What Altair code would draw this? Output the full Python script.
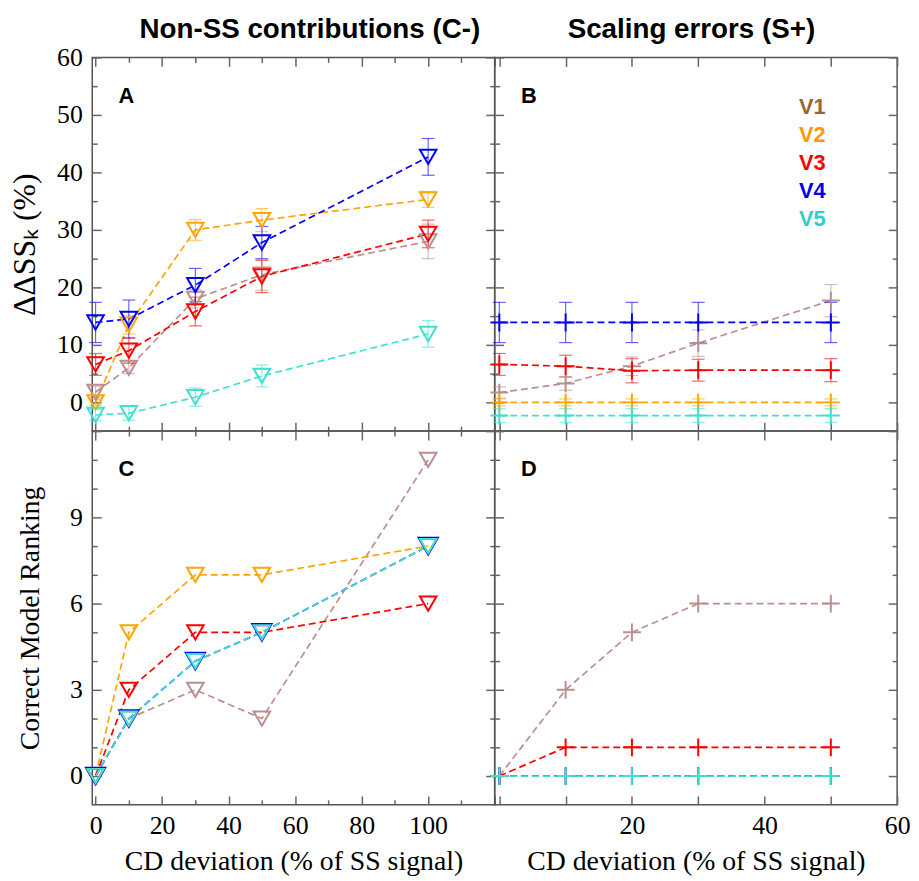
import altair as alt
import pandas as pd

SERIES = ["V1", "V2", "V3", "V4", "V5"]
LINE_COLORS = ["#bc8f8f", "#ffa500", "#ff0000", "#0000ff", "#40e0d0"]
LABEL_COLORS = ["#996633", "#ff9900", "#ff0000", "#0000ee", "#33cccc"]

# x positions (CD deviation, %)
X_LEFT = [0, 10, 30, 50, 100]
X_RIGHT = [0, 10, 20, 30, 50]

# Panel A: ΔΔSS_k (%) under non-SS contributions
A_V1 = [1.8, 6.0, 18.0, 22.2, 28.0]
A_V2 = [0.0, 13.5, 30.0, 31.7, 35.3]
A_V3 = [6.6, 9.0, 15.8, 21.9, 29.3]
A_V4 = [13.9, 14.5, 20.4, 27.8, 42.7]
A_V5 = [-2.2, -1.9, 0.9, 4.6, 11.9]
A_V1_ERR = [1.0, 1.0, 1.6, 2.7, 3.0]
A_V2_ERR = [0.5, 1.6, 1.8, 2.0, 1.4]
A_V3_ERR = [1.9, 2.2, 2.5, 2.8, 2.4]
A_V4_ERR = [3.5, 3.3, 2.9, 2.8, 3.2]
A_V5_ERR = [1.0, 1.2, 1.6, 1.9, 2.3]

# Panel B: ΔΔSS_k (%) under scaling errors
B_V1 = [1.7, 3.3, 6.3, 10.3, 17.7]
B_V2 = [0.0, 0.0, 0.0, 0.0, 0.0]
B_V3 = [6.6, 6.3, 5.5, 5.6, 5.6]
B_V4 = [13.9, 13.9, 13.9, 13.9, 13.9]
B_V5 = [-2.3, -2.3, -2.3, -2.3, -2.3]
B_V1_ERR = [1.0, 1.2, 1.6, 2.3, 2.8]
B_V2_ERR = [0.6, 0.6, 0.6, 0.6, 0.6]
B_V3_ERR = [1.9, 1.9, 2.1, 1.9, 2.0]
B_V4_ERR = [3.5, 3.5, 3.5, 3.5, 3.5]
B_V5_ERR = [1.2, 1.2, 1.2, 1.2, 1.2]

# Panel C: correct model ranking, non-SS contributions
C_V1 = [0, 2, 3, 2, 11]
C_V2 = [0, 5, 7, 7, 8]
C_V3 = [0, 3, 5, 5, 6]
C_V4 = [0, 2, 4, 5, 8]
C_V5 = [0, 2, 4, 5, 8]

# Panel D: correct model ranking, scaling errors
D_V1 = [0, 3, 5, 6, 6]
D_V2 = [0, 0, 0, 0, 0]
D_V3 = [0, 1, 1, 1, 1]
D_V4 = [0, 0, 0, 0, 0]
D_V5 = [0, 0, 0, 0, 0]

# axis ticks (major / minor) and labelled values
XL_MAJOR = [0, 20, 40, 60, 80, 100, 120]
XL_MINOR = [10, 30, 50, 70, 90, 110]
XL_LABELS = [0, 20, 40, 60, 80, 100]
XR_MAJOR = [0, 10, 20, 30, 40, 50, 60]
XR_MINOR = []
XR_LABELS = [20, 40, 60]
YT_MAJOR = [0, 10, 20, 30, 40, 50, 60]
YT_MINOR = [5, 15, 25, 35, 45, 55]
YT_LABELS = [0, 10, 20, 30, 40, 50, 60]
YB_MAJOR = [0, 3, 6, 9, 12]
YB_MINOR = [1, 2, 4, 5, 7, 8, 10, 11]
YB_LABELS = [0, 3, 6, 9]

SERIF = "Liberation Serif"
SANS = "Liberation Sans"
TICK_COLOR = "#666666"
MAJOR_LEN = 9
MINOR_LEN = 5
W, H = 406, 377


def frame(xs, ys_list, errs_list=None):
    rows = []
    for i, s in enumerate(SERIES):
        ys = ys_list[i]
        for j, x in enumerate(xs):
            row = {"series": s, "x": x, "y": ys[j]}
            if errs_list is not None:
                e = errs_list[i][j]
                row["lo"] = ys[j] - e
                row["hi"] = ys[j] + e
            rows.append(row)
    return pd.DataFrame(rows)


dfA = frame(X_LEFT, [A_V1, A_V2, A_V3, A_V4, A_V5],
            [A_V1_ERR, A_V2_ERR, A_V3_ERR, A_V4_ERR, A_V5_ERR])
dfB = frame(X_RIGHT, [B_V1, B_V2, B_V3, B_V4, B_V5],
            [B_V1_ERR, B_V2_ERR, B_V3_ERR, B_V4_ERR, B_V5_ERR])
dfC = frame(X_LEFT, [C_V1, C_V2, C_V3, C_V4, C_V5])
dfD = frame(X_RIGHT, [D_V1, D_V2, D_V3, D_V4, D_V5])
df_key = pd.DataFrame({"series": SERIES})

color_scale = alt.Scale(domain=SERIES, range=LINE_COLORS)


def make_axis(orient, ticks, length, labeled=None, title=None, title_pos=None,
              title_font=None):
    # inward ticks: shift the axis line inside the frame by the tick length
    kw = dict(
        orient=orient, values=ticks, domain=False, grid=False,
        tickSize=length, offset=-length,
        tickColor=TICK_COLOR, tickWidth=1.5, labelOverlap=False, labelFlush=False,
    )
    if labeled:
        kw.update(labels=True,
                  labelExpr=f"indexof({labeled}, datum.value) >= 0 ? datum.label : ''",
                  labelFont=SERIF, labelFontSize=26, labelColor="black",
                  labelPadding=10 if orient in ("left", "right") else 8)
    else:
        kw.update(labels=False)
    if title:
        tf = title_font or dict(titleFont=SERIF, titleFontSize=28, titleFontWeight="normal")
        kw.update(title=title, titleColor="black", titleBaseline="alphabetic",
                  titleAlign="center", titleX=title_pos[0], titleY=title_pos[1], **tf)
        if orient in ("left", "right"):
            kw.update(titleAngle=270)
        else:
            kw.update(titleAngle=0)
    else:
        kw.update(title=None)
    return alt.Axis(**kw)


def letter_axis(letter):
    return alt.Axis(orient="top", values=[], ticks=False, labels=False, domain=False,
                    grid=False, title=letter, titleX=26, titleY=45, titleAlign="left",
                    titleBaseline="alphabetic", titleAngle=0, titleFont=SANS,
                    titleFontSize=22, titleFontWeight="bold", titleColor="black")


COL_TITLE_FONT = dict(titleFont=SANS, titleFontSize=28, titleFontWeight="bold")


def panel(df, xdom, ydom, xmajor, xminor, ymajor, yminor, letter, shape, size,
          xlabels=None, ylabels=None, xtitle=None, ytitle=None, ytitle_x=-67,
          ytitle_size=28, col_title=None, col_title_x=203, errors=False, key=False,
          big_v4=False):
    xs = alt.Scale(domain=xdom, nice=False, zero=False)
    ys = alt.Scale(domain=ydom, nice=False, zero=False)
    base = alt.Chart(df)

    def axis_layer(xa, ya):
        return base.mark_point(opacity=0).encode(
            x=alt.X("x:Q", scale=xs, axis=xa),
            y=alt.Y("y:Q", scale=ys, axis=ya),
        )

    ytf = dict(titleFont=SERIF, titleFontSize=ytitle_size, titleFontWeight="normal")
    layers = [
        axis_layer(make_axis("bottom", xmajor, MAJOR_LEN, xlabels, xtitle, (W / 2, 74)),
                   make_axis("left", ymajor, MAJOR_LEN, ylabels, ytitle, (ytitle_x, H / 2), ytf)),
        axis_layer(make_axis("top", xmajor, MAJOR_LEN, None, col_title, (col_title_x, -29),
                             COL_TITLE_FONT),
                   make_axis("right", ymajor, MAJOR_LEN)),
        axis_layer(make_axis("bottom", xminor, MINOR_LEN) if xminor else None,
                   make_axis("left", yminor, MINOR_LEN)),
        axis_layer(make_axis("top", xminor, MINOR_LEN) if xminor else None,
                   make_axis("right", yminor, MINOR_LEN)),
        axis_layer(letter_axis(letter), None),
    ]

    col_enc = alt.Color("series:N", scale=color_scale, legend=None)
    layers.append(base.mark_line(strokeDash=[7, 4], strokeWidth=1.7).encode(
        x=alt.X("x:Q", scale=xs, axis=None),
        y=alt.Y("y:Q", scale=ys, axis=None),
        color=col_enc,
    ))
    if errors:
        layers.append(base.mark_errorbar(ticks={"size": 13}, thickness=1.2, opacity=0.6).encode(
            x=alt.X("x:Q", scale=xs, axis=None),
            y=alt.Y("lo:Q", scale=ys, axis=None),
            y2="hi:Q",
            color=col_enc,
        ))
    if big_v4:
        size_enc = alt.condition("datum.series === 'V4'", alt.value(size * 1.35), alt.value(size))
    else:
        size_enc = alt.value(size)
    layers.append(base.mark_point(shape=shape, filled=False, strokeWidth=2, opacity=1).encode(
        x=alt.X("x:Q", scale=xs, axis=None),
        y=alt.Y("y:Q", scale=ys, axis=None),
        color=col_enc,
        size=size_enc,
    ))
    if key:
        layers.append(alt.Chart(df_key).mark_text(
            align="left", baseline="middle", font=SANS, fontSize=22, fontWeight="bold"
        ).encode(
            text="series:N",
            x=alt.value(307),
            y=alt.Y("series:N", axis=None,
                    scale=alt.Scale(type="point", domain=SERIES, range=[50, 163.5], padding=0)),
            fill=alt.Fill("series:N", scale=alt.Scale(domain=SERIES, range=LABEL_COLORS),
                          legend=None),
        ))
    ch = alt.layer(*layers).resolve_axis(x="independent", y="independent")
    if key:
        ch = ch.resolve_scale(y="independent")
    return ch.properties(width=W, height=H)


TRI = "triangle-down"
PLUS = "M-1,0H1M0,-1V1"

pA = panel(dfA, [-1, 120], [-5, 60], XL_MAJOR, XL_MINOR, YT_MAJOR, YT_MINOR, "A", TRI, 280,
           ylabels=YT_LABELS, ytitle="ΔΔSSₖ (%)", ytitle_x=-67, ytitle_size=32,
           col_title="Non-SS contributions (C-)", col_title_x=219, errors=True)
pB = panel(dfB, [-0.7, 60], [-5, 60], XR_MAJOR, XR_MINOR, YT_MAJOR, YT_MINOR, "B", PLUS, 324,
           col_title="Scaling errors (S+)", col_title_x=198, errors=True, key=True)
pC = panel(dfC, [-1, 120], [-1, 12], XL_MAJOR, XL_MINOR, YB_MAJOR, YB_MINOR, "C", TRI, 280,
           xlabels=XL_LABELS, ylabels=YB_LABELS, xtitle="CD deviation (% of SS signal)",
           ytitle="Correct Model Ranking", ytitle_x=-63.5, big_v4=True)
pD = panel(dfD, [-0.7, 60], [-1, 12], XR_MAJOR, XR_MINOR, YB_MAJOR, YB_MINOR, "D", PLUS, 324,
           xlabels=XR_LABELS, xtitle="CD deviation (% of SS signal)")

chart = alt.concat(pA, pB, pC, pD, columns=2, spacing=0, bounds="flush").properties(
    padding={"left": 0, "top": 3, "right": 0, "bottom": 0}
).configure_view(stroke="#555555", strokeWidth=1.5)

chart.save("out.html", embed_options={"renderer": "svg", "actions": False})
